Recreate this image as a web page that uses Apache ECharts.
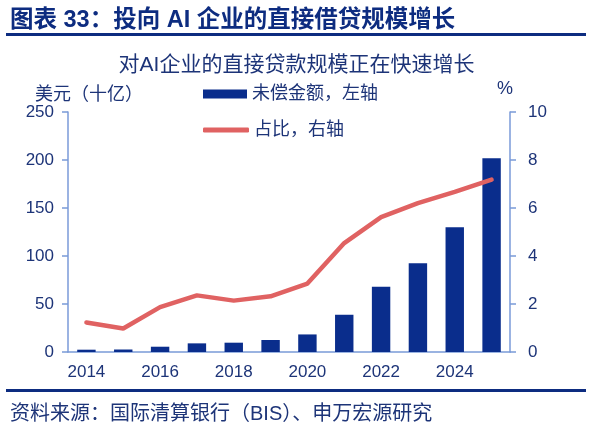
<!DOCTYPE html>
<html>
<head>
    <meta charset="utf-8">
    <title>投向AI企业的直接借贷规模增长</title>
    <script type="text/javascript" src="https://cdn.jsdelivr.net/npm/echarts@6/dist/echarts.min.js"></script>
    <style>
        html, body { margin: 0; padding: 0; background: #fff; }
        #main { width: 593px; height: 429px; }
    </style>
</head>
<body>
<div id="main"></div>
<script type="text/javascript">
    // 数据
    var years = ['2014', '2015', '2016', '2017', '2018', '2019', '2020', '2021', '2022', '2023', '2024', '2025'];
    var loanAmount = [2.4, 2.6, 5.5, 9, 9.7, 12.5, 18.3, 38.8, 68, 92.5, 130, 201.7];   // 未偿金额，十亿美元
    var loanShare = [1.23, 0.98, 1.87, 2.36, 2.14, 2.32, 2.85, 4.54, 5.62, 6.2, 6.67, 7.18]; // 占比，%

    var navy = '#0a2d8c';
    var textNavy = '#1d3478';
    var axisBlue = '#7a9ad8';
    var red = '#e06262';
    var font = "'Liberation Sans', 'Noto Sans CJK SC', sans-serif";

    var myChart = echarts.init(document.getElementById('main'));

    var option = {
        backgroundColor: '#fff',
        textStyle: { fontFamily: font },
        animation: false,
        title: [
            {
                text: '图表 33：投向 AI 企业的直接借贷规模增长',
                left: 5, top: 4,
                textStyle: { fontSize: 23.5, fontWeight: 'bold', color: '#0d2c80', fontFamily: font }
            },
            {
                text: '对AI企业的直接贷款规模正在快速增长',
                left: 'center', top: 50,
                textStyle: { fontSize: 21, fontWeight: 'normal', color: textNavy, fontFamily: font }
            },
            {
                text: '资料来源：国际清算银行（BIS）、申万宏源研究',
                left: 5, top: 399,
                textStyle: { fontSize: 20, fontWeight: 'normal', color: textNavy, fontFamily: font }
            }
        ],
        graphic: [
            { type: 'rect', shape: { x: 6, y: 33, width: 580, height: 3 }, style: { fill: '#0d2c80' } },
            { type: 'rect', shape: { x: 6, y: 389, width: 580, height: 3 }, style: { fill: '#0d2c80' } }
        ],
        legend: [
            {
                data: [{ name: '未偿金额，左轴', icon: 'rect' }],
                left: 203, top: 84, padding: 0,
                itemWidth: 44, itemHeight: 9, itemGap: 5,
                textStyle: { fontSize: 18, color: textNavy, lineHeight: 20, fontFamily: font }
            },
            {
                data: [{ name: '占比，右轴', icon: 'roundRect' }],
                left: 203, top: 120, padding: 0,
                itemWidth: 46, itemHeight: 5,
                itemStyle: { color: red, borderWidth: 0 },
                textStyle: { fontSize: 18, color: textNavy, lineHeight: 20, fontFamily: font }
            }
        ],
        grid: { left: 68, right: 83, top: 112, bottom: 77 },
        xAxis: {
            type: 'category',
            data: years,
            axisLine: { lineStyle: { color: axisBlue, width: 1.5 } },
            axisTick: { interval: 1, length: 6, lineStyle: { color: axisBlue, width: 1.5 } },
            axisLabel: { interval: 1, fontSize: 17, color: textNavy, margin: 12, fontFamily: font }
        },
        yAxis: [
            {
                type: 'value',
                min: 0, max: 250, interval: 50,
                name: '美元（十亿）',
                nameLocation: 'end',
                nameGap: 7,
                nameTextStyle: { fontSize: 18, color: textNavy, align: 'left', padding: [0, 0, 0, -33], fontFamily: font },
                axisLine: { show: true, lineStyle: { color: axisBlue, width: 1.5 } },
                axisTick: { show: true, length: 6, lineStyle: { color: axisBlue, width: 1.5 } },
                axisLabel: { fontSize: 17, color: textNavy, margin: 14, fontFamily: font },
                splitLine: { show: false }
            },
            {
                type: 'value',
                min: 0, max: 10, interval: 2,
                name: '%',
                nameLocation: 'end',
                nameGap: 14,
                nameTextStyle: { fontSize: 18, color: textNavy, align: 'left', padding: [0, 0, 0, -13], fontFamily: font },
                axisLine: { show: true, lineStyle: { color: axisBlue, width: 1.5 } },
                axisTick: { show: true, length: 6, lineStyle: { color: axisBlue, width: 1.5 } },
                axisLabel: { fontSize: 17, color: textNavy, margin: 18, fontFamily: font },
                splitLine: { show: false }
            }
        ],
        series: [
            {
                name: '未偿金额，左轴',
                type: 'bar',
                yAxisIndex: 0,
                barWidth: '50%',
                itemStyle: { color: navy },
                data: loanAmount
            },
            {
                name: '占比，右轴',
                type: 'line',
                yAxisIndex: 1,
                symbol: 'none',
                lineStyle: { color: red, width: 4.5, cap: 'round' },
                itemStyle: { color: red },
                data: loanShare
            }
        ]
    };
    myChart.setOption(option);
</script>
</body>
</html>
